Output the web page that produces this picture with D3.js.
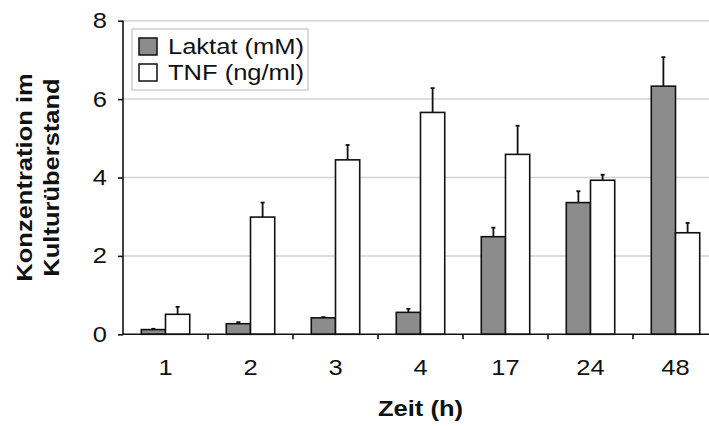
<!DOCTYPE html>
<html>
<head>
<meta charset="utf-8">
<script src="https://cdn.jsdelivr.net/npm/d3@7"></script>
<style>
  html, body { margin: 0; padding: 0; background: #fff; }
  svg { display: block; font-family: "Liberation Sans", Arial, sans-serif; }
</style>
</head>
<body>
<svg id="chart" width="709" height="426"></svg>
<script>
// Time points (hours)
const categories = ["1", "2", "3", "4", "17", "24", "48"];
const seriesNames = ["Laktat (mM)", "TNF (ng/ml)"];
// Lactate concentration (mM) and its error
const laktat    = [0.12, 0.27, 0.42, 0.56, 2.49, 3.36, 6.33];
const laktatErr = [0.02, 0.04, 0.02, 0.09, 0.23, 0.29, 0.74];
// TNF concentration (ng/ml) and its error
const tnf       = [0.51, 2.99, 4.45, 5.66, 4.59, 3.93, 2.59];
const tnfErr    = [0.19, 0.37, 0.38, 0.62, 0.73, 0.14, 0.25];
const yTicks = [0, 2, 4, 6, 8];
const xTitle = "Zeit (h)";
const yTitle = ["Konzentration im", "Kulturüberstand"];

const fills = ["#8c8c8c", "#ffffff"];
const SX = 1.16; // horizontal text widening

const svg = d3.select("#chart");
const pLeft = 123, pRight = 718, pTop = 20.7, pBottom = 334.3;

const x0 = d3.scaleBand().domain(categories).range([pLeft, pRight])
  .paddingInner(0.43).paddingOuter(0.215);
const x1 = d3.scaleBand().domain(seriesNames).range([0, x0.bandwidth()]);
const y = d3.scaleLinear().domain([0, 8]).range([pBottom, pTop]);

// Gridlines
svg.append("g").selectAll("line").data(yTicks.filter(d => d > 0)).join("line")
  .attr("x1", pLeft).attr("x2", 709)
  .attr("y1", d => y(d)).attr("y2", d => y(d))
  .attr("stroke", "#d2d2d2").attr("stroke-width", 1.5);

// Bars
const rows = categories.map((c, i) => ({
  cat: c,
  vals: [
    { s: seriesNames[0], v: laktat[i], e: laktatErr[i], f: fills[0] },
    { s: seriesNames[1], v: tnf[i], e: tnfErr[i], f: fills[1] }
  ]
}));

const groups = svg.append("g").selectAll("g").data(rows).join("g")
  .attr("transform", d => `translate(${x0(d.cat)},0)`);

// Error bars (upper only)
groups.selectAll("g.err").data(d => d.vals).join("g").attr("class", "err")
  .each(function(d) {
    const g = d3.select(this);
    const cx = x1(d.s) + x1.bandwidth() / 2;
    g.append("line").attr("x1", cx).attr("x2", cx)
      .attr("y1", y(d.v)).attr("y2", y(d.v + d.e))
      .attr("stroke", "#111").attr("stroke-width", 1.8);
    g.append("line").attr("x1", cx - 2).attr("x2", cx + 2)
      .attr("y1", y(d.v + d.e)).attr("y2", y(d.v + d.e))
      .attr("stroke", "#111").attr("stroke-width", 1.8);
  });

groups.selectAll("rect").data(d => d.vals).join("rect")
  .attr("x", d => x1(d.s))
  .attr("width", x1.bandwidth())
  .attr("y", d => y(d.v))
  .attr("height", d => y(0) - y(d.v))
  .attr("fill", d => d.f)
  .attr("stroke", "#111").attr("stroke-width", 1.6);

// Y axis
const yAxis = svg.append("g").attr("transform", `translate(${pLeft},0)`)
  .call(d3.axisLeft(y).tickValues(yTicks).tickSize(5).tickPadding(16).tickFormat(d3.format("d")));
yAxis.select(".domain").attr("stroke", "#111").attr("stroke-width", 1.6)
  .attr("d", `M0,${pTop}V${pBottom}`);
yAxis.selectAll(".tick line").attr("stroke", "#111").attr("stroke-width", 1.6);
yAxis.selectAll(".tick text")
  .attr("font-size", 22).attr("fill", "#111")
  .attr("x", null)
  .attr("transform", `translate(-16,0) scale(${SX},1)`);

// X axis: ticks at category boundaries
const xAxis = svg.append("g").attr("transform", `translate(0,${pBottom})`);
xAxis.append("line").attr("x1", pLeft).attr("x2", 709).attr("y1", 0).attr("y2", 0)
  .attr("stroke", "#111").attr("stroke-width", 1.6);
xAxis.selectAll("line.tk").data(categories).join("line").attr("class", "tk")
  .attr("x1", d => x0(d) - x0.step() * x0.paddingInner() / 2 + x0.step())
  .attr("x2", d => x0(d) - x0.step() * x0.paddingInner() / 2 + x0.step())
  .attr("y1", 0).attr("y2", 5)
  .attr("stroke", "#111").attr("stroke-width", 1.6);
xAxis.selectAll("text").data(categories).join("text")
  .attr("transform", d => `translate(${x0(d) + x0.bandwidth() / 2},41) scale(${SX},1)`)
  .attr("text-anchor", "middle")
  .attr("font-size", 22).attr("fill", "#111")
  .text(d => d);

// Axis titles
svg.append("text")
  .attr("transform", `translate(${(pLeft + pRight) / 2},416) scale(${SX},1)`)
  .attr("text-anchor", "middle").attr("font-size", 22).attr("font-weight", "bold")
  .attr("fill", "#111").text(xTitle);

const yt = svg.append("text")
  .attr("transform", `translate(0,${(pTop + pBottom) / 2}) rotate(-90) scale(${SX},1)`)
  .attr("text-anchor", "middle").attr("font-size", 22).attr("font-weight", "bold")
  .attr("fill", "#111");
yt.selectAll("tspan").data(yTitle).join("tspan")
  .attr("x", 0).attr("y", (d, i) => 32 + i * 27)
  .text(d => d);

// Legend
const legend = svg.append("g");
legend.append("rect").attr("x", 132).attr("y", 29).attr("width", 176).attr("height", 61)
  .attr("fill", "#fff").attr("stroke", "#cfcfcf").attr("stroke-width", 1.5);
const li = legend.selectAll("g.li").data(seriesNames).join("g").attr("class", "li")
  .attr("transform", (d, i) => `translate(139,${38 + i * 26})`);
li.append("rect").attr("width", 18).attr("height", 17)
  .attr("fill", (d, i) => fills[i]).attr("stroke", "#111").attr("stroke-width", 1.5);
li.append("text")
  .attr("transform", `translate(29,16) scale(${SX},1)`)
  .attr("font-size", 22).attr("fill", "#111").text(d => d);
</script>
</body>
</html>
